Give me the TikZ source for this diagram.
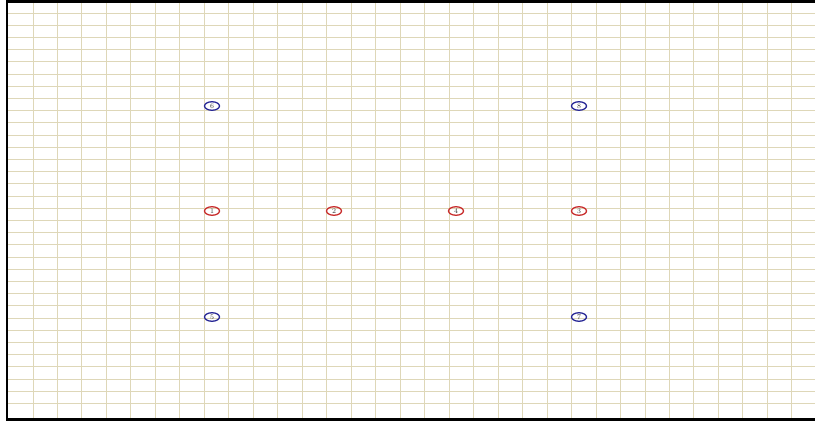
\documentclass[tikz,border=0pt]{standalone}
\usepackage{tikz}
\usetikzlibrary{shapes.geometric}
\definecolor{gridtan}{RGB}{222,215,184}
\definecolor{pinred}{RGB}{200,45,45}
\definecolor{pinblue}{RGB}{40,40,150}
\tikzset{
  pin/.style={ellipse,draw,line width=1.3pt,minimum width=15pt,minimum height=8.5pt,
    inner sep=0pt,font=\fontsize{7}{7}\selectfont,text=black!80},
  redpin/.style={pin,draw=pinred},
  bluepin/.style={pin,draw=pinblue}
}
\begin{document}
\begin{tikzpicture}[x=1pt,y=-1pt]
  \useasboundingbox (0,0) rectangle (815,421);
  \fill[white](0,0)rectangle(815,421);
  % grid
  \foreach \k in {0,...,31}{
    \draw[gridtan,line width=1pt](33+24.48*\k,3)--(33+24.48*\k,419);}
  \foreach \k in {0,...,32}{
    \draw[gridtan,line width=1pt](7,13+12.2*\k)--(815,13+12.2*\k);}
  % frame (left, top, bottom)
  \draw[black,line width=2.2pt](815,1.5)--(7,1.5)--(7,419.5)--(815,419.5);
  % pins
  \node[bluepin] (p6) at (212,106){6};
  \node[bluepin] (p8) at (579,106){8};
  \node[redpin]  (p1) at (212,211){1};
  \node[redpin]  (p2) at (334,211){2};
  \node[redpin]  (p4) at (456,211){4};
  \node[redpin]  (p3) at (579,211){3};
  \node[bluepin] (p5) at (212,317){5};
  \node[bluepin] (p7) at (579,317){7};
\end{tikzpicture}
\end{document}
